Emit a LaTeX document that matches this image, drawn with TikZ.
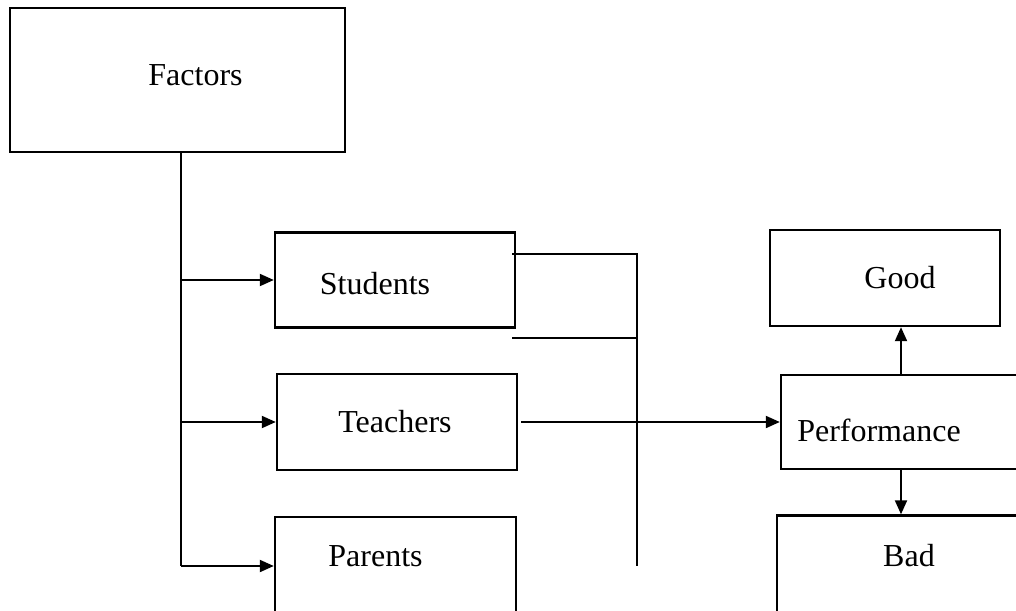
\documentclass[tikz,border=0pt]{standalone}
\usepackage{fontspec}
\setmainfont{Liberation Serif}
\usetikzlibrary{arrows.meta}
\tikzset{>={Triangle[length=7pt,width=6pt]}}
\tikzset{
  box/.style={draw,line width=1.2pt,rectangle,inner sep=0pt},
  lbl/.style={font=\fontsize{16}{19}\selectfont,inner sep=0pt},
  wire/.style={line width=1pt}
}

\begin{document}
\begin{tikzpicture}[x=0.5pt,y=-0.5pt]
    \useasboundingbox (0,0) rectangle (1016,610);
    \clip (0,0) rectangle (1016,610);

    \node [box,minimum width=167.5pt,minimum height=72pt,
    label={[lbl,shift={(9pt,2.5pt)}]center:Factors}] (fac) at (177.5,80) {};

    \node [box,minimum width=120pt,minimum height=47.5pt,
    label={[lbl,shift={(-10pt,-2pt)}]center:Students}] (stud) at (395,280) {};

    \node [box,minimum width=120pt,minimum height=48pt,
    label={[lbl,shift={(-1pt,0pt)}]center:Teachers}] (teach) at (397,422) {};

    \node [box,minimum width=120.5pt,minimum height=48pt,
    label={[lbl,shift={(-10pt,4.5pt)}]center:Parents}] (par) at (395.5,565) {};

    \node [box,minimum width=115pt,minimum height=48pt,
    label={[lbl,shift={(7.5pt,0pt)}]center:Good}] (good) at (885,278) {};

    \node [box,minimum width=120pt,minimum height=47pt,
    label={[lbl,shift={(-11pt,-4pt)}]center:Performance}] (perf) at (901,422) {};

    \node [box,minimum width=122pt,minimum height=48.5pt,
    label={[lbl,shift={(5pt,4pt)}]center:Bad}] (bad) at (899,564) {};

    \coordinate (trunk) at (181,566);
    \coordinate (s1) at (512,254);
    \coordinate (s2) at (512,338);
    \coordinate (jn) at (637,566);

    \draw [wire] (fac.south -| trunk) -- (trunk);
    \draw [wire,->] (trunk |- stud.west) -- (stud.west);
    \draw [wire,->] (trunk |- teach.west) -- (teach.west);
    \draw [wire,->] (trunk) -- (trunk -| par.west);

    \draw [wire] (s1) -- (s1 -| jn) -- (jn);
    \draw [wire] (s2) -- (s2 -| jn);

    \draw [wire,->,shorten <=1.5pt] (teach.east) -- (teach.east -| perf.west);
    \draw [wire,->] (perf.north) -- (perf.north |- good.south);
    \draw [wire,->] (perf.south) -- (perf.south |- bad.north);
  \end{tikzpicture}
\end{document}
